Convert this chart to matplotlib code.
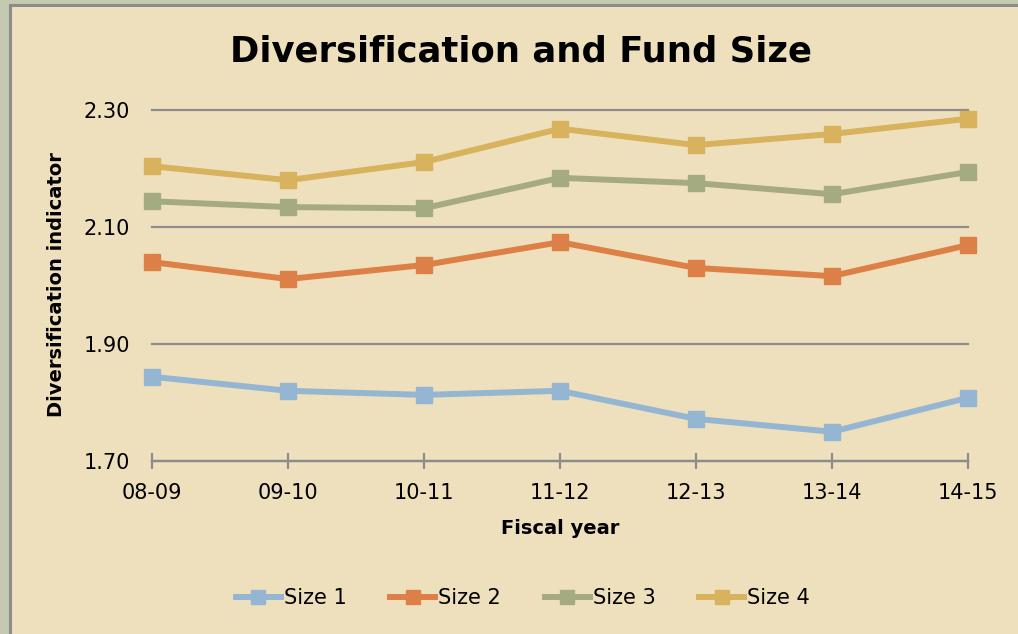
import matplotlib.pyplot as plt
from matplotlib.patches import Rectangle

# fiscal years on the x axis
years = ['08-09', '09-10', '10-11', '11-12', '12-13', '13-14', '14-15']

# diversification indicator per fund size group
size_1 = [1.844, 1.820, 1.813, 1.820, 1.772, 1.750, 1.808]
size_2 = [2.040, 2.011, 2.035, 2.074, 2.030, 2.016, 2.069]
size_3 = [2.144, 2.134, 2.132, 2.184, 2.175, 2.156, 2.194]
size_4 = [2.204, 2.180, 2.211, 2.268, 2.240, 2.259, 2.285]

series_names = ['Size 1', 'Size 2', 'Size 3', 'Size 4']
series_colors = ['#94B6D2', '#DD8047', '#A5AB81', '#D8B25C']

y_ticks = [1.70, 1.90, 2.10, 2.30]

bg = '#EFE0BD'
grid_col = '#8C8C8C'

fig = plt.figure(figsize=(10.18, 6.34), dpi=100)
fig.patch.set_facecolor('#C5C9B0')

# beige panel with grey frame (cut off on right / bottom)
W, H = 1018, 634
panel = Rectangle((9.5 / W, -0.05), 1.2, 1 - 4.5 / H + 0.05, transform=fig.transFigure,
                  facecolor=bg, edgecolor=grid_col, linewidth=2.2, zorder=-1)
fig.patches.append(panel)

ax = fig.add_axes([152 / W, 1 - 461 / H, 816 / W, 351 / H])
ax.set_facecolor('none')
ax.set_zorder(2)

x = list(range(len(years)))
for vals, name, col in zip([size_1, size_2, size_3, size_4], series_names, series_colors):
    ax.plot(x, vals, color=col, linewidth=4.3, marker='s', markersize=11,
            label=name, solid_joinstyle='miter', zorder=3, clip_on=False)

ax.set_xlim(0, len(years) - 1)
ax.set_ylim(1.70, 2.30)
ax.set_yticks(y_ticks)
ax.set_yticklabels([f'{v:.2f}' for v in y_ticks])
ax.set_xticks(x)
ax.set_xticklabels(years)

ax.yaxis.grid(True, color=grid_col, linewidth=1.6)
for gl in ax.get_ygridlines():
    gl.set_clip_on(False)
ax.set_axisbelow(True)
for side in ['left', 'right', 'top']:
    ax.spines[side].set_visible(False)
ax.spines['bottom'].set_color(grid_col)
ax.spines['bottom'].set_linewidth(1.6)
ax.spines['bottom'].set_zorder(2)

ax.tick_params(axis='y', length=0, pad=16, labelsize=15)
ax.tick_params(axis='x', direction='inout', length=12, width=1.6, color=grid_col,
               pad=10, labelsize=15)

fig.text(521 / W, 1 - 52 / H, 'Diversification and Fund Size', ha='center', va='center',
         fontsize=25.5, fontweight='bold', zorder=3)
fig.text(57 / W, 1 - 285 / H, 'Diversification indicator', ha='center', va='center',
         rotation=90, fontsize=14, fontweight='bold', zorder=3)
fig.text(560 / W, 1 - 528 / H, 'Fiscal year', ha='center', va='center',
         fontsize=14, fontweight='bold', zorder=3)

leg = fig.legend(loc='center', bbox_to_anchor=(523 / W, 1 - 598 / H), ncol=4, frameon=False,
                 fontsize=15, handlelength=2.15, handletextpad=0.15, columnspacing=2.1,
                 markerscale=0.9)
leg.set_zorder(3)

fig.savefig('out.png', dpi=100, facecolor=fig.get_facecolor())
